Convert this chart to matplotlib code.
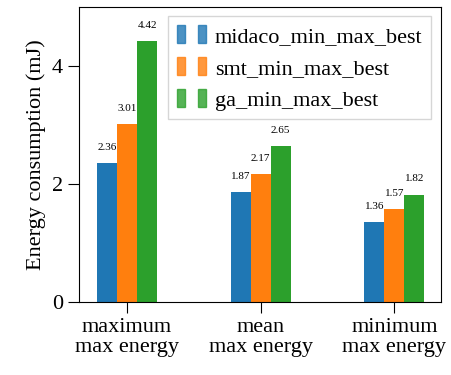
import numpy as np
import matplotlib
matplotlib.use("Agg")
from matplotlib import pyplot as plt
from matplotlib.patches import Patch
from matplotlib.legend_handler import HandlerTuple

# data
groups = ["maximum\nmax energy", "mean\nmax energy", "minimum\nmax energy"]
series = ["midaco_min_max_best", "smt_min_max_best", "ga_min_max_best"]
midaco = [2.36, 1.87, 1.36]
smt = [3.01, 2.17, 1.57]
ga = [4.42, 2.65, 1.82]
colors = ["#1f77b4", "#ff7f0e", "#2ca02c"]

plt.rcParams["font.family"] = ["Liberation Serif", "DejaVu Serif"]

fig = plt.figure(figsize=(4.51, 3.75), dpi=100)
ax = fig.add_axes([0.175, 0.195, 0.803, 0.786])

x = np.arange(len(groups))
width = 0.15
handles = []
for i, (vals, color) in enumerate(zip([midaco, smt, ga], colors)):
    bars = ax.bar(x + (i - 1) * width, vals, width, color=color)
    ax.bar_label(bars, labels=[f"{v:.2f}" for v in vals], padding=8, fontsize=8)
    handles.append((Patch(color=color, alpha=0.8), Patch(color=color, alpha=0.8)))

ax.set_xlim(-0.36, 2.35)
ax.set_ylim(0, 5)
ax.set_yticks([0, 2, 4])
ax.set_xticks(x)
ax.set_xticklabels(groups, fontsize=16, linespacing=1.1)
ax.tick_params(axis="y", labelsize=16, length=8, width=0.8)
ax.tick_params(axis="x", length=8, width=0.8)
ax.set_ylabel("Energy consumption (mJ)", fontsize=16)

ax.legend(handles, series, handler_map={tuple: HandlerTuple(ndivide=None, pad=0.6)},
          loc="upper right", bbox_to_anchor=(0.985, 0.985), fontsize=16,
          fancybox=False, handlelength=1.3, handleheight=0.9, handletextpad=0.4,
          labelspacing=0.45, borderpad=0.4, borderaxespad=0.2)

fig.savefig("out.png", dpi=100)
